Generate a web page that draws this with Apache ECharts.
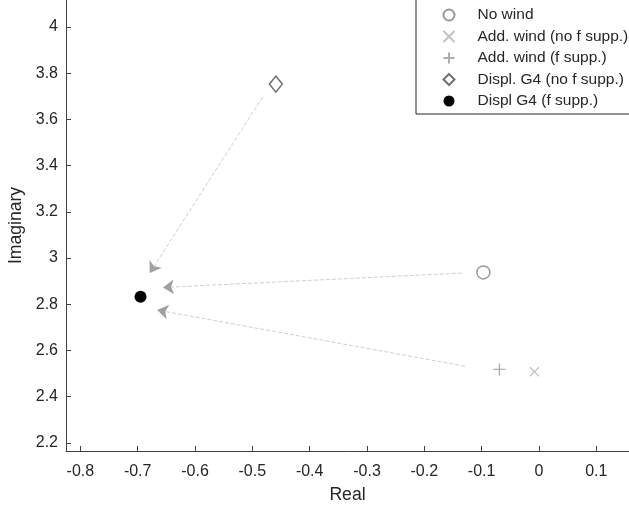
<!DOCTYPE html>
<html>
<head>
<meta charset="utf-8">
<script src="https://cdn.jsdelivr.net/npm/echarts@6/dist/echarts.min.js"></script>
<style>
  html, body { margin: 0; padding: 0; background: #fff; }
  #chart { width: 629px; height: 509px; }
</style>
</head>
<body>
<div id="chart"></div>
<script>
// pole positions [real, imaginary]
const noWind = [[-0.097, 2.938]];
const addWindNoF = [[-0.008, 2.508]];
const addWindF = [[-0.069, 2.518]];
const displNoF = [[-0.459, 3.753]];
const displF = [[-0.695, 2.833]];

// arrows: [start, tip]
const arrows = [
  [[-0.482, 3.697], [-0.679, 2.935]],
  [[-0.135, 2.935], [-0.656, 2.873]],
  [[-0.129, 2.532], [-0.666, 2.775]]
];

const xTicks = [-0.8, -0.7, -0.6, -0.5, -0.4, -0.3, -0.2, -0.1, 0, 0.1];
const yTicks = [2.2, 2.4, 2.6, 2.8, 3, 3.2, 3.4, 3.6, 3.8, 4];

const font = 'Liberation Sans, Arial, sans-serif';
const textColor = '#262626';

const chart = echarts.init(document.getElementById('chart'));

function scatter(name, data, symbol, size, style) {
  return {
    name: name,
    type: 'scatter',
    data: data,
    symbol: symbol,
    symbolSize: size,
    itemStyle: style,
    z: 5
  };
}

const option = {
  animation: false,
  backgroundColor: '#fff',
  grid: { left: 66, right: 0, top: 0, bottom: 58, outerBoundsMode: 'none', containLabel: false },
  xAxis: {
    type: 'value',
    min: -0.825,
    max: 0.157,
    name: 'Real',
    nameLocation: 'middle',
    nameGap: 35,
    nameTextStyle: { fontFamily: font, fontSize: 17.6, color: textColor },
    axisLine: { show: true, onZero: false, lineStyle: { color: '#404040', width: 1 } },
    axisTick: { show: true, inside: true, length: 5, customValues: xTicks, lineStyle: { color: '#404040' } },
    axisLabel: { customValues: xTicks, fontFamily: font, fontSize: 16, color: textColor, margin: 13 },
    splitLine: { show: false }
  },
  yAxis: {
    type: 'value',
    min: 2.165,
    max: 4.117,
    name: 'Imaginary',
    nameLocation: 'middle',
    nameGap: 29,
    nameRotate: 90,
    nameTextStyle: { fontFamily: font, fontSize: 17.6, color: textColor },
    axisLine: { show: true, onZero: false, lineStyle: { color: '#404040', width: 1 } },
    axisTick: { show: true, inside: true, length: 5, customValues: yTicks, lineStyle: { color: '#404040' } },
    axisLabel: { customValues: yTicks, fontFamily: font, fontSize: 16, color: textColor, margin: 8 },
    splitLine: { show: false }
  },
  legend: {
    orient: 'vertical',
    left: 416,
    top: -2,
    padding: [9, 12, 5, 25],
    itemGap: 5.5,
    itemWidth: 11,
    itemHeight: 11,
    backgroundColor: '#fff',
    borderColor: '#262626',
    borderWidth: 1,
    borderRadius: 0,
    textStyle: { fontFamily: font, fontSize: 15.5, color: textColor, padding: [0, 0, 0, 18] },
    data: ['No wind', 'Add. wind (no f supp.)', 'Add. wind (f supp.)', 'Displ. G4 (no f supp.)', 'Displ G4 (f supp.)']
  },
  series: [
    {
      type: 'lines',
      coordinateSystem: 'cartesian2d',
      silent: true,
      symbol: ['none', 'none'],
      lineStyle: { color: '#cfcfcf', width: 1, type: [4, 2], opacity: 1 },
      data: arrows.map(a => ({ coords: a })),
      z: 2
    },
    {
      type: 'lines',
      coordinateSystem: 'cartesian2d',
      silent: true,
      symbol: ['none', 'arrow'],
      symbolSize: [9, 11],
      lineStyle: { color: '#a0a0a0', width: 0, opacity: 1 },
      data: arrows.map(a => ({ coords: a })),
      z: 3
    },
    scatter('No wind', noWind, 'circle', 13,
      { color: 'none', borderColor: '#808080', borderWidth: 1.5 }),
    scatter('Add. wind (no f supp.)', addWindNoF, 'path://M0,0L10,10M10,0L0,10', 9,
      { color: 'none', borderColor: '#b3b3b3', borderWidth: 1.3 }),
    scatter('Add. wind (f supp.)', addWindF, 'path://M5,0L5,10M0,5L10,5', 12,
      { color: 'none', borderColor: '#999999', borderWidth: 1.3 }),
    scatter('Displ. G4 (no f supp.)', displNoF, 'diamond', [13, 16],
      { color: 'none', borderColor: '#4d4d4d', borderWidth: 1.5 }),
    scatter('Displ G4 (f supp.)', displF, 'circle', 12,
      { color: '#000000', borderColor: '#000000', borderWidth: 0, opacity: 1 })
  ]
};

chart.setOption(option);
</script>
</body>
</html>
